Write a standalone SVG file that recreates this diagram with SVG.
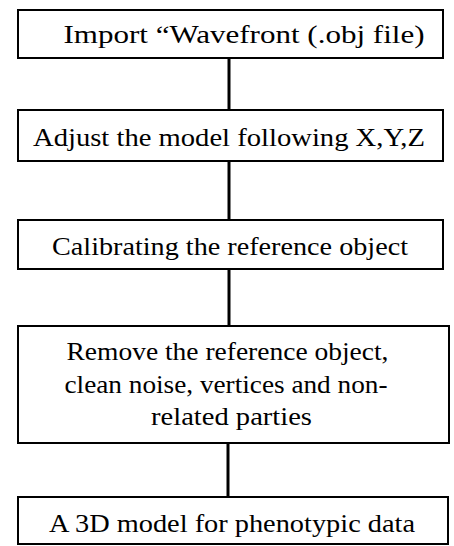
<svg xmlns="http://www.w3.org/2000/svg" width="454" height="546" viewBox="0 0 454 546">
<style>
.box{fill:#fff;stroke:#000;stroke-width:2}
.t{font-family:"Liberation Serif","Times New Roman",serif;font-size:25px;fill:#000}
.c{stroke:#000;stroke-width:3;fill:none}
</style>
<rect width="454" height="546" fill="#fff"/>
<g id="connectors">
<line class="c" x1="229" y1="58" x2="229" y2="110"/>
<line class="c" x1="229" y1="161" x2="229" y2="220"/>
<line class="c" x1="229" y1="269" x2="229" y2="326"/>
<line class="c" x1="228" y1="443" x2="228" y2="497"/>
</g>
<g id="n1"><rect class="box" x="18" y="10" width="425" height="48"/><text class="t" x="63.5" y="43.3" textLength="361" lengthAdjust="spacingAndGlyphs">Import “Wavefront (.obj file)</text></g>
<g id="n2"><rect class="box" x="18" y="110" width="425" height="51"/><text class="t" x="33" y="146" textLength="392" lengthAdjust="spacingAndGlyphs">Adjust the model following X,Y,Z</text></g>
<g id="n3"><rect class="box" x="18" y="220" width="425" height="49"/><text class="t" x="52" y="255" textLength="356" lengthAdjust="spacingAndGlyphs">Calibrating the reference object</text></g>
<g id="n4"><rect class="box" x="18" y="326" width="431" height="117"/><text class="t" x="66.5" y="360" textLength="322" lengthAdjust="spacingAndGlyphs">Remove the reference object,</text><text class="t" x="64.5" y="393" textLength="323" lengthAdjust="spacingAndGlyphs">clean noise, vertices and non-</text><text class="t" x="151" y="425" textLength="161" lengthAdjust="spacingAndGlyphs">related parties</text></g>
<g id="n5"><rect class="box" x="18" y="497" width="430" height="47"/><text class="t" x="49" y="532" textLength="366" lengthAdjust="spacingAndGlyphs">A 3D model for phenotypic data</text></g>
</svg>
